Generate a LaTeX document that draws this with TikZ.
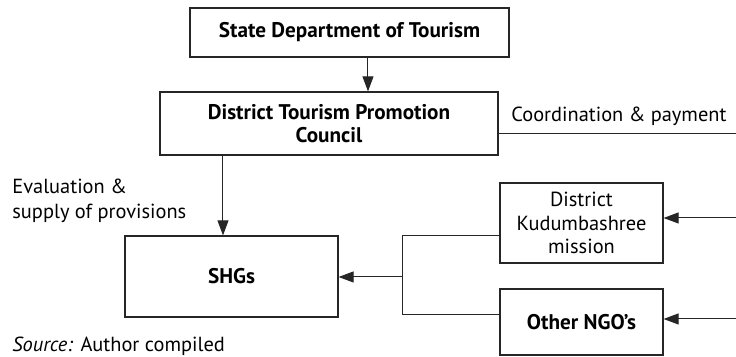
\documentclass[tikz,border=0pt]{standalone}
\usepackage{fontspec}
\setmainfont{PT Sans}
\usepackage{tikz}
\usetikzlibrary{arrows.meta, positioning}

\begin{document}
\begin{tikzpicture}[x=0.5pt, y=0.5pt,
    box/.style={draw=black!85, line width=0.6pt, inner sep=2pt, align=center, font=\fontsize{10.2}{11.8}\selectfont},
    boldbox/.style={box, font=\fontsize{10.6}{11.8}\selectfont\bfseries},
    link/.style={draw=black!85, line width=0.5pt},
    arr/.style={link, -{Triangle[length=7.5pt, width=5.5pt]}},
    lbl/.style={inner sep=0pt, align=left, font=\fontsize{10.2}{12.5}\selectfont}]
    \useasboundingbox (0,0) rectangle (736,357);

    % Boxes
    \node[boldbox, minimum width=159.5pt, minimum height=24.5pt] (state) at (349.5, 324.5) {State Department of Tourism};
    \node[boldbox, minimum width=169pt, minimum height=31.5pt] (dtpc) at (329, 233.5) {District Tourism Promotion\\Council};
    \node[boldbox, minimum width=106.5pt, minimum height=40.5pt] (shg) at (231.5, 80.5) {SHGs};
    \node[box, minimum width=81.5pt, minimum height=40pt] (dkm) at (581.5, 134) {District\\Kudumbashree\\mission};
    \node[boldbox, minimum width=81.5pt, minimum height=33pt] (ngo) at (581.5, 35) {Other NGO's};

    % Free ends and joints
    \coordinate (cright) at (736, 223);
    \coordinate (kin) at (736, 139);
    \coordinate (nin) at (736, 38);
    \coordinate (jtop) at (403, 121);
    \coordinate (jbot) at (403, 42);
    \coordinate (join) at (403, 80);

    % Connectors
    \draw[arr] ([xshift=9.25pt]state.south) -- ([xshift=9.25pt]state.south |- dtpc.north);
    \draw[arr] ([xshift=-4.25pt]shg.north |- dtpc.south) -- ([xshift=-4.25pt]shg.north);
    \draw[link] (dtpc.east |- cright) -- (cright);
    \draw[arr] (kin) -- (kin -| dkm.east);
    \draw[arr] (nin) -- (nin -| ngo.east);
    \draw[link] (jtop -| dkm.west) -- (jtop) -- (jbot) -- (jbot -| ngo.west);
    \draw[arr] (join) -- (join -| shg.east);

    % Labels
    \node[lbl, anchor=base west] (coord) at (511, 235) {Coordination \& payment};
    \node[lbl, anchor=west] (eval) at (12, 156.5) {Evaluation \&\\supply of provisions};
    \node[lbl, anchor=base west] (src) at (12, 5) {\textit{Source:} Author compiled};
\end{tikzpicture}
\end{document}
